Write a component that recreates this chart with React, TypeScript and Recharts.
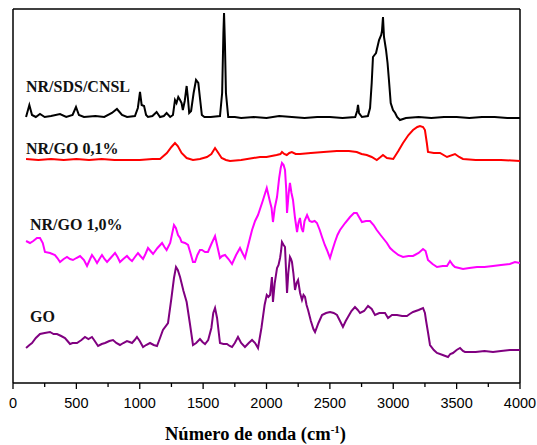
import React from 'react';
import { LineChart, Line, XAxis, YAxis, ReferenceLine } from 'recharts';

// [wavenumber (cm-1), offset intensity]
const nrSdsCnsl: number[][] = [[103,266],[129,278],[150,268],[180,266],[213,269],[250,266],[300,267],[371,269],[420,266],[470,268],[497,276],[520,268],[560,266],[650,267],[720,266],[780,270],[820,274],[860,268],[900,266],[962,267],[985,275],[1002,291],[1015,278],[1034,277],[1050,268],[1065,266],[1100,267],[1133,271],[1160,266],[1190,267],[1212,270],[1240,266],[1262,268],[1278,283],[1290,280],[1304,286],[1318,283],[1330,280],[1340,273],[1355,282],[1370,297],[1380,285],[1390,270],[1405,272],[1425,290],[1444,303],[1462,300],[1475,285],[1490,268],[1510,266],[1560,266],[1633,267],[1650,290],[1660,350],[1665,370],[1672,340],[1680,290],[1698,266],[1750,266],[1800,265],[1900,266],[2000,265],[2100,267],[2200,266],[2300,265],[2400,266],[2500,266],[2600,265],[2700,266],[2715,272],[2722,278],[2730,270],[2753,266],[2800,267],[2817,275],[2830,300],[2840,326],[2864,330],[2888,343],[2905,348],[2911,352],[2919,366],[2927,346],[2943,333],[2955,320],[2966,303],[2980,280],[2998,273],[3015,270],[3030,266],[3053,263],[3100,265],[3200,266],[3300,265],[3400,266],[3500,266],[3600,265],[3700,266],[3800,266],[3900,265],[4000,265]];

const nrGo01: number[][] = [[103,224],[200,223],[300,224],[400,223],[500,224],[600,223],[700,224],[800,223],[900,223],[1000,223],[1100,224],[1160,224],[1214,230],[1250,236],[1278,240],[1300,237],[1330,230],[1370,225],[1420,223],[1475,224],[1530,226],[1565,229],[1594,235],[1615,231],[1646,225],[1680,223],[1712,222],[1800,223],[1896,225],[1949,226],[2000,226],[2080,228],[2110,229],[2122,231],[2140,229],[2160,228],[2180,230],[2200,231],[2230,229],[2264,229],[2350,230],[2450,231],[2555,232],[2650,232],[2712,231],[2750,229],[2791,228],[2830,226],[2870,223],[2900,226],[2919,228],[2950,225],[3000,224],[3040,232],[3077,240],[3120,248],[3156,253],[3190,256],[3211,257],[3235,256],[3250,253],[3265,240],[3274,231],[3320,230],[3369,230],[3424,226],[3487,229],[3520,226],[3550,224],[3650,223],[3740,223],[3850,223],[4000,222]];

const nrGo10: number[][] = [[103,142],[134,140],[160,142],[189,145],[213,145],[235,140],[252,131],[292,130],[331,128],[350,125],[371,121],[400,124],[426,126],[450,124],[473,123],[500,125],[529,127],[560,123],[584,117],[605,123],[623,128],[645,124],[663,120],[682,124],[702,128],[722,124],[742,121],[770,125],[805,130],[825,126],[844,121],[870,124],[899,127],[920,124],[939,122],[962,126],[986,130],[1005,127],[1026,124],[1045,129],[1065,135],[1085,132],[1105,129],[1140,135],[1176,140],[1195,136],[1212,133],[1240,140],[1270,158],[1285,155],[1302,148],[1318,145],[1330,141],[1357,140],[1381,138],[1400,130],[1420,121],[1436,121],[1455,128],[1475,133],[1491,133],[1515,131],[1538,131],[1565,139],[1594,147],[1610,138],[1633,125],[1650,127],[1673,128],[1700,124],[1728,119],[1760,128],[1791,135],[1810,130],[1830,125],[1860,140],[1886,153],[1910,162],[1933,168],[1970,182],[2002,195],[2015,188],[2028,181],[2040,175],[2051,161],[2065,175],[2083,186],[2100,205],[2112,215],[2122,220],[2135,218],[2146,213],[2155,195],[2162,170],[2175,190],[2185,200],[2197,190],[2209,183],[2225,165],[2241,151],[2252,160],[2264,165],[2276,155],[2288,151],[2300,162],[2320,168],[2340,162],[2359,161],[2380,162],[2398,160],[2420,153],[2438,146],[2460,138],[2477,133],[2501,125],[2520,133],[2540,141],[2560,148],[2580,153],[2620,160],[2659,166],[2690,170],[2712,170],[2730,166],[2753,161],[2785,162],[2817,162],[2845,158],[2870,153],[2900,148],[2925,144],[2950,140],[2975,135],[3000,132],[3040,128],[3077,126],[3120,127],[3156,127],[3200,130],[3235,134],[3255,132],[3274,123],[3310,119],[3345,116],[3390,117],[3424,117],[3448,122],[3470,118],[3487,116],[3520,115],[3550,114],[3600,115],[3661,116],[3720,116],[3787,117],[3850,118],[3920,119],[3960,121],[4000,120]];

const go: number[][] = [[103,35],[130,38],[150,40],[180,45],[213,49],[250,50],[292,51],[320,49],[347,49],[380,47],[410,45],[430,42],[450,39],[470,40],[505,40],[540,43],[568,46],[595,44],[623,46],[645,42],[671,37],[700,39],[726,40],[760,42],[789,43],[815,40],[844,38],[870,40],[899,42],[920,41],[939,40],[960,43],[978,46],[1000,42],[1026,36],[1050,38],[1081,40],[1110,38],[1136,37],[1160,45],[1183,53],[1223,60],[1250,85],[1270,105],[1286,116],[1300,113],[1318,106],[1345,92],[1370,81],[1395,60],[1420,38],[1445,40],[1475,44],[1495,41],[1515,39],[1540,43],[1565,55],[1580,70],[1594,75],[1610,65],[1633,40],[1660,39],[1688,39],[1710,37],[1728,36],[1750,40],[1775,46],[1800,40],[1830,36],[1860,40],[1886,43],[1910,40],[1933,35],[1960,55],[1985,78],[2002,88],[2015,86],[2028,88],[2043,106],[2051,81],[2065,100],[2083,115],[2095,118],[2107,125],[2115,132],[2122,141],[2135,138],[2146,136],[2155,110],[2162,90],[2172,110],[2185,126],[2193,124],[2201,121],[2212,110],[2225,93],[2237,100],[2249,103],[2265,90],[2280,83],[2292,88],[2304,86],[2316,78],[2328,73],[2350,62],[2370,54],[2383,51],[2410,60],[2438,68],[2470,70],[2501,71],[2530,70],[2556,68],[2580,62],[2603,56],[2625,62],[2643,66],[2670,72],[2698,76],[2720,73],[2738,70],[2770,72],[2801,77],[2830,74],[2856,68],[2890,70],[2935,70],[2959,65],[2990,68],[3030,68],[3070,67],[3108,67],[3130,69],[3156,71],[3200,73],[3235,75],[3250,70],[3258,63],[3275,50],[3290,38],[3320,33],[3345,30],[3390,28],[3432,26],[3450,29],[3471,30],[3500,33],[3527,35],[3550,32],[3566,31],[3650,31],[3720,32],[3787,31],[3850,32],[3920,33],[4000,33]];

const xTicks = [0, 250, 500, 750, 1000, 1250, 1500, 1750, 2000, 2250, 2500, 2750, 3000, 3250, 3500, 3750, 4000];
const labeledTicks = [0, 500, 1000, 1500, 2000, 2500, 3000, 3500, 4000];

const seriesNames = ['NR/SDS/CNSL', 'NR/GO 0,1%', 'NR/GO 1,0%', 'GO'];
const xTitle = 'Número de onda (cm';

const toRows = (arr: number[][]) => arr.map(([x, y]) => ({ x, y }));

const Tick = (props: any) => {
  const { x, y, payload } = props;
  const v = payload.value;
  const major = labeledTicks.includes(v);
  return (
    <g>
      <line x1={x} x2={x} y1={y} y2={y + (major ? 6 : 4)} stroke="#000" strokeWidth={1.3} />
      {major && (
        <text x={x} y={y + 25} textAnchor="middle" fontFamily="'Liberation Sans', Arial, sans-serif" fontSize={14.5} fill="#000">
          {v}
        </text>
      )}
    </g>
  );
};

const labelStyle: React.CSSProperties = {
  position: 'absolute',
  fontFamily: "'Liberation Serif', 'Times New Roman', serif",
  fontWeight: 'bold',
  fontSize: 16,
  color: '#111',
  whiteSpace: 'nowrap',
  lineHeight: '16px',
};

export default function App() {
  return (
    <div style={{ position: 'absolute', left: 0, top: 0, width: 537, height: 445, background: '#fff' }}>
      <LineChart width={537} height={445} margin={{ top: 9, right: 17, left: 13, bottom: 32 }}>
        <XAxis
          type="number"
          dataKey="x"
          domain={[0, 4000]}
          ticks={xTicks}
          tick={<Tick />}
          tickLine={false}
          tickSize={0}
          tickMargin={0}
          height={30}
          interval={0}
          axisLine={{ stroke: '#000', strokeWidth: 1.5 }}
          allowDataOverflow
        />
        <YAxis hide type="number" domain={[0, 374]} allowDataOverflow />
        <ReferenceLine x={0} stroke="#000" strokeWidth={1.5} />
        <ReferenceLine x={4000} stroke="#000" strokeWidth={1.5} />
        <ReferenceLine y={374} stroke="#000" strokeWidth={1.5} />
        <Line data={toRows(nrSdsCnsl)} dataKey="y" stroke="#000000" strokeWidth={2} dot={false} isAnimationActive={false} />
        <Line data={toRows(nrGo01)} dataKey="y" stroke="#ff0000" strokeWidth={2} dot={false} isAnimationActive={false} />
        <Line data={toRows(nrGo10)} dataKey="y" stroke="#ff00ff" strokeWidth={2} dot={false} isAnimationActive={false} />
        <Line data={toRows(go)} dataKey="y" stroke="#800080" strokeWidth={2} dot={false} isAnimationActive={false} />
      </LineChart>
      <div style={{ ...labelStyle, left: 26, top: 79 }}>{seriesNames[0]}</div>
      <div style={{ ...labelStyle, left: 26, top: 141 }}>{seriesNames[1]}</div>
      <div style={{ ...labelStyle, left: 30, top: 217 }}>{seriesNames[2]}</div>
      <div style={{ ...labelStyle, left: 30, top: 309 }}>{seriesNames[3]}</div>
      <div
        style={{
          position: 'absolute',
          left: 165,
          top: 425,
          fontFamily: "'Liberation Serif', 'Times New Roman', serif",
          fontWeight: 'bold',
          fontSize: 18.5,
          lineHeight: '19px',
          color: '#000',
          whiteSpace: 'nowrap',
        }}
      >
        {xTitle}
        <sup style={{ fontSize: 11, lineHeight: 0 }}>-1</sup>)
      </div>
    </div>
  );
}
